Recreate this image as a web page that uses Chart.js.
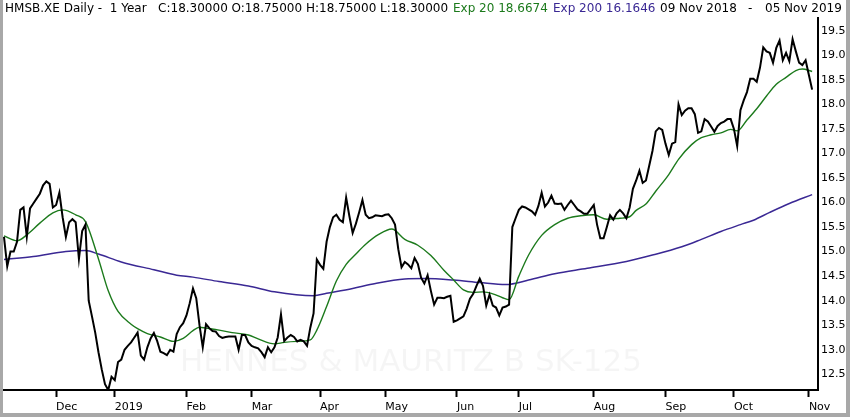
<!DOCTYPE html>
<html>
<head>
<meta charset="utf-8">
<title>HMSB.XE Daily - 1 Year</title>
<script src="https://cdn.jsdelivr.net/npm/chart.js@4.4.1/dist/chart.umd.min.js"></script>
<style>
  html, body { margin: 0; padding: 0; background: #fff; }
  #wrap { width: 850px; height: 417px; }
</style>
</head>
<body>
<div id="wrap"><canvas id="chart" width="850" height="417"></canvas></div>
<script>
// Trading calendar: 09 Nov 2018 - 05 Nov 2019, weekdays minus market closures
const firstDay = '2018-11-09';
const lastDay = '2019-11-05';
const closedDays = ['2018-12-24', '2018-12-25', '2018-12-26', '2019-01-01', '2019-04-19',
    '2019-04-22', '2019-05-01', '2019-06-06', '2019-11-01'];

// Bottom axis labels, one per month
const monthLabels = ['Dec', '2019', 'Feb', 'Mar', 'Apr', 'May', 'Jun', 'Jul', 'Aug', 'Sep', 'Oct', 'Nov'];

// Right axis tick values
const yTicks = [12.5, 13.0, 13.5, 14.0, 14.5, 15.0, 15.5, 16.0, 16.5, 17.0, 17.5, 18.0, 18.5, 19.0, 19.5];

// Daily closes, one per trading day
const closes = [
    15.3, 14.7, 15.0, 15.0, 15.2, 15.85, 15.9, 15.3, 15.88, 15.98,
    16.08, 16.18, 16.35, 16.43, 16.38, 15.9, 15.95, 16.2, 15.7, 15.3,
    15.6, 15.66, 15.6, 14.85, 15.42, 15.55, 14.0, 13.68, 13.35, 12.95,
    12.6, 12.3, 12.18, 12.45, 12.38, 12.75, 12.8, 13.0, 13.08, 13.15,
    13.25, 13.35, 12.88, 12.8, 13.05, 13.23, 13.34, 13.18, 12.96, 12.93,
    12.89, 13.0, 12.96, 13.32, 13.46, 13.54, 13.7, 13.95, 14.25, 14.05,
    13.5, 13.05, 13.52, 13.44, 13.38, 13.37, 13.28, 13.24, 13.26, 13.27,
    13.27, 13.27, 13.0, 13.3, 13.3, 13.15, 13.08, 13.05, 13.03, 12.95,
    12.85, 13.05, 12.95, 13.05, 13.25, 13.72, 13.18, 13.25, 13.3, 13.26,
    13.17, 13.2, 13.17, 13.08, 13.45, 13.74, 14.84, 14.73, 14.65, 15.2,
    15.5, 15.7, 15.75, 15.65, 15.6, 16.1, 15.72, 15.38, 15.57, 15.8,
    16.05, 15.75, 15.68, 15.7, 15.74, 15.73, 15.72, 15.75, 15.76, 15.68,
    15.55, 15.05, 14.68, 14.79, 14.74, 14.66, 14.87, 14.75, 14.47, 14.35,
    14.52, 14.2, 13.92, 14.06, 14.06, 14.05, 14.08, 14.1, 13.57, 13.6,
    13.64, 13.68, 13.84, 14.04, 14.14, 14.3, 14.45, 14.3, 13.9, 14.12,
    13.9, 13.86, 13.7, 13.86, 13.88, 13.92, 15.5, 15.68, 15.85, 15.92,
    15.9, 15.86, 15.82, 15.75, 15.93, 16.2, 15.92, 16.0, 16.14, 15.98,
    15.97, 15.98, 15.85, 15.95, 16.04, 15.95, 15.86, 15.82, 15.77, 15.77,
    15.86, 15.95, 15.55, 15.27, 15.27, 15.5, 15.74, 15.65, 15.78, 15.85,
    15.78, 15.68, 15.9, 16.28, 16.45, 16.65, 16.4, 16.45, 16.75, 17.05,
    17.45, 17.52, 17.48, 17.2, 16.97, 17.2, 17.23, 18.0, 17.78, 17.87,
    17.92, 17.92, 17.8, 17.42, 17.45, 17.7, 17.65, 17.55, 17.44, 17.56,
    17.62, 17.65, 17.7, 17.7, 17.5, 17.15, 17.88, 18.08, 18.25, 18.52,
    18.52, 18.46, 18.75, 19.16, 19.08, 19.05, 18.85, 19.15, 19.3, 18.9,
    19.05, 18.88, 19.33, 19.08, 18.85, 18.8, 18.9, 18.6, 18.3
];

// Exp 20 average, read at these trading-day numbers
const ema20Days = [0, 4, 7, 11, 15, 18, 22, 25, 29, 32, 35, 39, 41, 44, 48, 52, 55, 58, 60, 62,
    66, 70, 75, 78, 83, 86, 90, 94, 96, 99, 102, 105, 108, 111, 115, 119, 123, 127, 131, 135,
    138, 141, 144, 147, 150, 153, 155, 158, 161, 165, 169, 173, 177, 181, 185, 189, 192, 194, 197, 200,
    204, 207, 211, 214, 217, 220, 223, 225, 228, 231, 234, 237, 240, 243, 245, 248];
const ema20 = [15.32, 15.22, 15.34, 15.58, 15.79, 15.85, 15.75, 15.61, 14.85, 14.2,
    13.78, 13.52, 13.43, 13.33, 13.26, 13.17, 13.23, 13.39, 13.46, 13.44,
    13.4, 13.35, 13.3, 13.22, 13.12, 13.15, 13.17, 13.2, 13.4, 13.88,
    14.4, 14.74, 14.95, 15.15, 15.35, 15.46, 15.25, 15.13, 14.92, 14.62,
    14.42, 14.22, 14.17, 14.18, 14.14, 14.06, 14.02, 14.5, 14.93, 15.33,
    15.55, 15.68, 15.73, 15.75, 15.66, 15.68, 15.71, 15.84, 15.97, 16.23,
    16.57, 16.88, 17.18, 17.32, 17.38, 17.42, 17.49, 17.46, 17.68, 17.91,
    18.17, 18.41, 18.55, 18.69, 18.72, 18.67];

// Exp 200 average
const ema200Days = [0, 9, 19, 25, 29, 36, 46, 53, 58, 66, 75, 83, 95, 99, 107, 114, 123, 129, 138, 146,
    154, 161, 169, 179, 191, 199, 208, 214, 220, 226, 230, 235, 241, 248];
const ema200 = [14.84, 14.9, 15.0, 15.02, 14.95, 14.79, 14.63, 14.52, 14.48, 14.39,
    14.3, 14.18, 14.1, 14.15, 14.25, 14.35, 14.44, 14.45, 14.42, 14.37,
    14.33, 14.42, 14.55, 14.66, 14.8, 14.93, 15.1, 15.25, 15.41, 15.55,
    15.64, 15.8, 15.98, 16.16];

const BLACK = '#000000';
const GREEN = '#1c7a1c';
const PURPLE = '#3a2894';
const FONT = 'DejaVu Sans';

// Build list of trading days and find first day of each month
function tradingDays() {
    const days = [];
    const d = new Date(firstDay + 'T12:00:00Z');
    const end = new Date(lastDay + 'T12:00:00Z');
    while (d <= end) {
        const iso = d.toISOString().slice(0, 10);
        const wd = d.getUTCDay();
        if (wd !== 0 && wd !== 6 && !closedDays.includes(iso)) {
            days.push(iso);
        }
        d.setUTCDate(d.getUTCDate() + 1);
    }
    return days;
}

const dates = tradingDays();
const monthStarts = [];
dates.forEach((iso, i) => {
    if (i > 0 && iso.slice(5, 7) !== dates[i - 1].slice(5, 7)) {
        monthStarts.push(i);
    }
});

// Header line, watermark and outer frame
const decorPlugin = {
    id: 'decor',
    beforeDraw(chart) {
        const ctx = chart.ctx;
        ctx.save();
        ctx.fillStyle = '#ffffff';
        ctx.fillRect(0, 0, chart.width, chart.height);
        ctx.restore();
    },
    beforeDatasetsDraw(chart) {
        const ctx = chart.ctx;
        ctx.save();
        ctx.font = '31px "' + FONT + '"';
        ctx.fillStyle = 'rgba(0, 0, 0, 0.04)';
        ctx.textAlign = 'center';
        ctx.textBaseline = 'middle';
        ctx.fillText('HENNES & MAURITZ B SK-125', 411, 363);
        ctx.restore();
    },
    afterDraw(chart) {
        const ctx = chart.ctx;
        ctx.save();
        ctx.font = '12px "' + FONT + '"';
        ctx.textBaseline = 'alphabetic';
        const parts = [
            { text: 'HMSB.XE Daily -  1 Year   C:18.30000 O:18.75000 H:18.75000 L:18.30000', x: 5, color: BLACK },
            { text: 'Exp 20 18.6674', x: 453, color: GREEN },
            { text: 'Exp 200 16.1646', x: 553, color: PURPLE },
            { text: '09 Nov 2018', x: 660, color: BLACK },
            { text: '-', x: 748, color: BLACK },
            { text: '05 Nov 2019', x: 765, color: BLACK }
        ];
        parts.forEach(p => {
            ctx.fillStyle = p.color;
            ctx.fillText(p.text, p.x, 12);
        });

        // grey frame
        ctx.fillStyle = '#a8a8a8';
        ctx.fillRect(0, 0, 3, chart.height);
        ctx.fillRect(chart.width - 4, 0, 4, chart.height);
        ctx.fillRect(0, chart.height - 4, chart.width, 4);
        ctx.restore();
    }
};

const ctx = document.getElementById('chart');
new Chart(ctx, {
    type: 'line',
    data: {
        datasets: [
            {
                label: 'HMSB.XE',
                data: closes.map((v, i) => ({ x: i, y: v })),
                borderColor: BLACK,
                borderWidth: 2,
                pointRadius: 0,
                tension: 0
            },
            {
                label: 'Exp 20',
                data: ema20Days.map((d, k) => ({ x: d, y: ema20[k] })),
                borderColor: GREEN,
                borderWidth: 1.4,
                pointRadius: 0,
                cubicInterpolationMode: 'monotone'
            },
            {
                label: 'Exp 200',
                data: ema200Days.map((d, k) => ({ x: d, y: ema200[k] })),
                borderColor: PURPLE,
                borderWidth: 1.5,
                pointRadius: 0,
                cubicInterpolationMode: 'monotone'
            }
        ]
    },
    options: {
        responsive: false,
        animation: false,
        devicePixelRatio: 1,
        layout: { padding: { left: 3, top: 18, right: 0, bottom: 0 } },
        plugins: {
            legend: { display: false },
            tooltip: { enabled: false }
        },
        scales: {
            x: {
                type: 'linear',
                min: -0.3,
                max: 249.8,
                afterBuildTicks: scale => {
                    scale.ticks = monthStarts.map(v => ({ value: v }));
                },
                afterFit: scale => { scale.height = 27; },
                ticks: {
                    autoSkip: false,
                    maxRotation: 0,
                    align: 'start',
                    padding: 4,
                    color: BLACK,
                    font: { family: FONT, size: 11 },
                    callback: value => {
                        const k = monthStarts.indexOf(value);
                        return k >= 0 ? monthLabels[k] : '';
                    }
                },
                grid: {
                    drawOnChartArea: false,
                    drawTicks: true,
                    tickLength: 7,
                    tickWidth: 2,
                    tickColor: BLACK
                },
                border: { display: true, color: BLACK, width: 2 }
            },
            y: {
                position: 'right',
                min: 12.18,
                max: 19.76,
                afterBuildTicks: scale => {
                    scale.ticks = yTicks.map(v => ({ value: v }));
                },
                afterFit: scale => { scale.width = 32; },
                ticks: {
                    padding: 3,
                    color: BLACK,
                    font: { family: FONT, size: 11 },
                    callback: value => value.toFixed(1)
                },
                grid: { drawOnChartArea: false, drawTicks: false },
                border: { display: true, color: BLACK, width: 2 }
            }
        }
    },
    plugins: [decorPlugin]
});
</script>
</body>
</html>
